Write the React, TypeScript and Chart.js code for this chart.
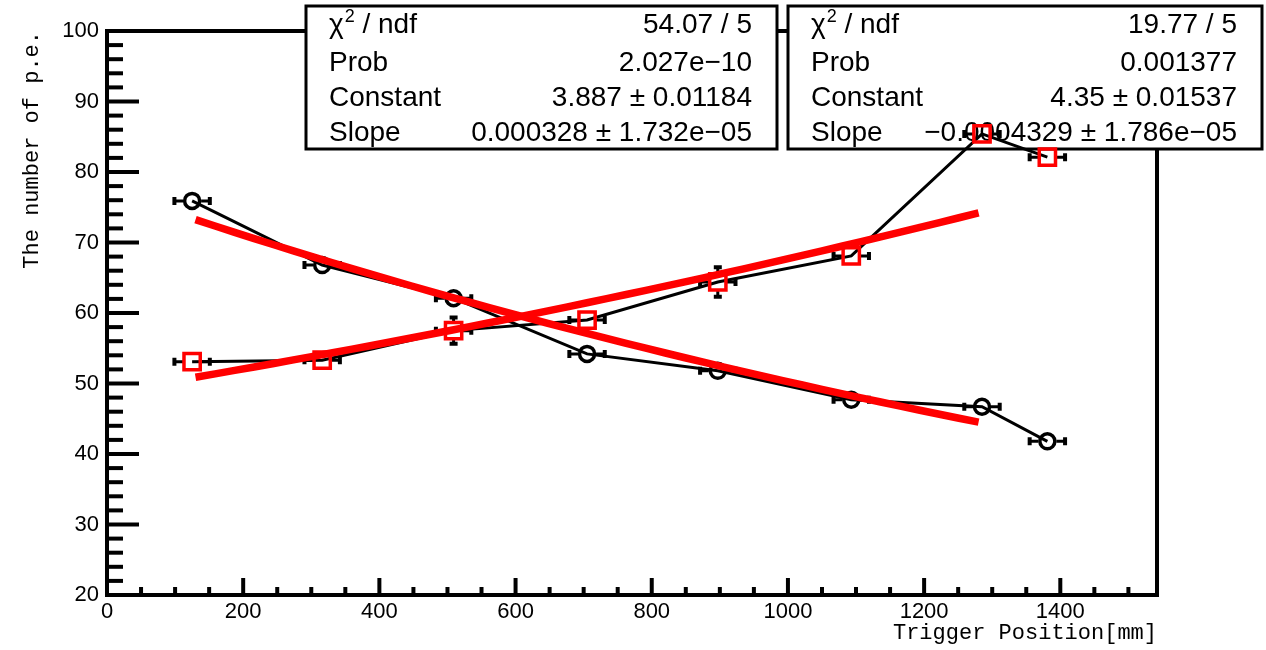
import React, { useEffect, useRef } from "react";
import { Chart, registerables } from "chart.js";

Chart.register(...registerables);

// ---------- data ----------
const positions = [125, 316, 509, 705, 897, 1093, 1285, 1381];
const positionErrors = [26, 26, 26, 26, 26, 26, 26, 26];
const circleValues = [75.9, 66.8, 62.1, 54.2, 51.8, 47.7, 46.7, 41.8];
const circleErrors = [0.8, 1.2, 0.8, 0.8, 0.8, 0.8, 0.8, 0.8];
const squareValues = [53.1, 53.3, 57.5, 59.0, 64.4, 68.1, 85.4, 82.1];
const squareErrors = [0.8, 0.8, 1.85, 0.8, 2.1, 0.8, 0.8, 0.8];

// exponential fits exp(constant + slope * x) over the fit range
const fitRange = [130, 1280];
const fitRising = { constant: 3.887, slope: 0.000328 };
const fitFalling = { constant: 4.35, slope: -0.0004329 };

const xTicks = [0, 200, 400, 600, 800, 1000, 1200, 1400];
const yTicks = [20, 30, 40, 50, 60, 70, 80, 90, 100];
const xMax = 1542;

const statsRisingLabels = ["χ2 / ndf", "Prob", "Constant", "Slope"];
const statsRisingValues = ["54.07 / 5", "2.027e\u221210", "3.887 ± 0.01184", "0.000328 ± 1.732e\u221205"];
const statsFallingLabels = ["χ2 / ndf", "Prob", "Constant", "Slope"];
const statsFallingValues = ["19.77 / 5", "0.001377", "4.35 ± 0.01537", "\u22120.0004329 ± 1.786e\u221205"];

const xTitle = "Trigger Position[mm]";
const yTitle = "The number of p.e.";

// ---------- helpers ----------
function fitSamples(fit: { constant: number; slope: number }) {
  const pts: { x: number; y: number }[] = [];
  const n = 40;
  for (let i = 0; i <= n; i++) {
    const x = fitRange[0] + ((fitRange[1] - fitRange[0]) * i) / n;
    pts.push({ x, y: Math.exp(fit.constant + fit.slope * x) });
  }
  return pts;
}

const SANS = "'Liberation Sans', Arial, Helvetica, sans-serif";
const MONO = "'Liberation Mono', 'Courier New', monospace";

function drawStatBox(
  ctx: CanvasRenderingContext2D,
  box: { x: number; y: number; w: number; h: number },
  labels: string[],
  values: string[]
) {
  ctx.save();
  ctx.fillStyle = "#ffffff";
  ctx.fillRect(box.x, box.y, box.w, box.h);
  ctx.strokeStyle = "#000000";
  ctx.lineWidth = 3;
  ctx.strokeRect(box.x, box.y, box.w, box.h);
  ctx.fillStyle = "#000000";
  ctx.textBaseline = "alphabetic";
  const baselines = [33, 70.5, 105.5, 140.5];
  const padL = 23;
  const padR = 25;
  const F = 28;
  labels.forEach((lab, i) => {
    const yb = box.y - 6 + baselines[i];
    ctx.textAlign = "left";
    if (lab.startsWith("χ2")) {
      ctx.font = `${F}px ${SANS}`;
      ctx.fillText("χ", box.x + padL, yb);
      const wChi = ctx.measureText("χ").width;
      ctx.font = `18px ${SANS}`;
      ctx.fillText("2", box.x + padL + wChi + 1, yb - 11);
      const w2 = ctx.measureText("2").width;
      ctx.font = `${F}px ${SANS}`;
      ctx.fillText(lab.slice(2), box.x + padL + wChi + 1 + w2, yb);
    } else {
      ctx.font = `${F}px ${SANS}`;
      ctx.fillText(lab, box.x + padL, yb);
    }
    ctx.font = `${F}px ${SANS}`;
    ctx.textAlign = "right";
    ctx.fillText(values[i], box.x + box.w - padR, yb);
  });
  ctx.restore();
}

const framePlugin = {
  id: "rootFrame",
  beforeDatasetsDraw(chart: any) {
    const { ctx, chartArea, scales } = chart;
    const xs = scales.x;
    const ys = scales.y;
    const { left, right, top, bottom } = chartArea;
    ctx.save();
    ctx.strokeStyle = "#000";
    ctx.lineWidth = 4;
    ctx.lineCap = "butt";
    // frame
    ctx.strokeRect(left, top, right - left, bottom - top);
    // y ticks (inward)
    for (let v = ys.min; v <= ys.max + 1e-9; v += 2) {
      const y = ys.getPixelForValue(v);
      const major = Math.abs(v % 10) < 1e-6;
      const len = major ? 32 : 16;
      ctx.beginPath();
      ctx.moveTo(left, y);
      ctx.lineTo(left + len, y);
      ctx.stroke();
    }
    // x ticks (inward)
    for (let v = 0; v <= xs.max + 1e-9; v += 50) {
      const x = xs.getPixelForValue(v);
      const major = Math.abs(v % 200) < 1e-6;
      const len = major ? 17 : 8;
      ctx.beginPath();
      ctx.moveTo(x, bottom);
      ctx.lineTo(x, bottom - len);
      ctx.stroke();
    }
    ctx.restore();

    // stat boxes
    drawStatBox(ctx, { x: 306, y: 6, w: 471, h: 143 }, statsRisingLabels, statsRisingValues);
    drawStatBox(ctx, { x: 788, y: 6, w: 474, h: 143 }, statsFallingLabels, statsFallingValues);

    // error bars
    const drawErrors = (vals: number[], errs: number[], markerHalf: number) => {
      ctx.save();
      ctx.strokeStyle = "#000";
      ctx.lineWidth = 3;
      vals.forEach((val, i) => {
        const px = xs.getPixelForValue(positions[i]);
        const py = ys.getPixelForValue(val);
        const exPx = xs.getPixelForValue(positions[i] + positionErrors[i]) - px;
        const eyPx = py - ys.getPixelForValue(val + errs[i]);
        const cap = 4;
        if (exPx > markerHalf) {
          ctx.beginPath();
          ctx.moveTo(px - exPx, py);
          ctx.lineTo(px - markerHalf, py);
          ctx.moveTo(px + markerHalf, py);
          ctx.lineTo(px + exPx, py);
          ctx.stroke();
          ctx.lineWidth = 4;
          ctx.beginPath();
          ctx.moveTo(px - exPx, py - cap);
          ctx.lineTo(px - exPx, py + cap);
          ctx.moveTo(px + exPx, py - cap);
          ctx.lineTo(px + exPx, py + cap);
          ctx.stroke();
          ctx.lineWidth = 3;
        }
        if (eyPx > markerHalf) {
          ctx.beginPath();
          ctx.moveTo(px, py - eyPx);
          ctx.lineTo(px, py - markerHalf);
          ctx.moveTo(px, py + markerHalf);
          ctx.lineTo(px, py + eyPx);
          ctx.stroke();
          ctx.lineWidth = 4;
          ctx.beginPath();
          ctx.moveTo(px - cap, py - eyPx);
          ctx.lineTo(px + cap, py - eyPx);
          ctx.moveTo(px - cap, py + eyPx);
          ctx.lineTo(px + cap, py + eyPx);
          ctx.stroke();
          ctx.lineWidth = 3;
        }
      });
      ctx.restore();
    };
    drawErrors(circleValues, circleErrors, 9);
    drawErrors(squareValues, squareErrors, 9);
  },
};

export default function App() {
  const canvasRef = useRef<HTMLCanvasElement | null>(null);

  useEffect(() => {
    document.body.style.margin = "0";
    const canvas = canvasRef.current;
    if (!canvas) return;

    const chart = new Chart(canvas, {
      type: "scatter",
      data: {
        datasets: [
          {
            label: "fit rising",
            data: fitSamples(fitRising),
            showLine: true,
            borderColor: "#ff0000",
            borderWidth: 7.5,
            pointRadius: 0,
            tension: 0,
            order: 0,
          },
          {
            label: "fit falling",
            data: fitSamples(fitFalling),
            showLine: true,
            borderColor: "#ff0000",
            borderWidth: 7.5,
            pointRadius: 0,
            tension: 0,
            order: 0,
          },
          {
            label: "circles",
            data: positions.map((x, i) => ({ x, y: circleValues[i] })),
            showLine: true,
            borderColor: "#000000",
            borderWidth: 3,
            pointStyle: "circle",
            pointRadius: 7.5,
            pointBorderWidth: 3.5,
            pointBorderColor: "#000000",
            pointBackgroundColor: "rgba(0,0,0,0)",
            tension: 0,
            order: 1,
          },
          {
            label: "squares",
            data: positions.map((x, i) => ({ x, y: squareValues[i] })),
            showLine: true,
            borderColor: "#000000",
            borderWidth: 3,
            pointStyle: "rect",
            pointRadius: 11.5,
            pointBorderWidth: 3.5,
            pointBorderColor: "#ff0000",
            pointBackgroundColor: "rgba(0,0,0,0)",
            tension: 0,
            order: 2,
          },
        ],
      },
      options: {
        animation: false,
        responsive: false,
        devicePixelRatio: 1,
        events: [],
        layout: { padding: { top: 31, right: 109, left: 0, bottom: 0 } },
        plugins: {
          legend: { display: false },
          tooltip: { enabled: false },
        },
        scales: {
          x: {
            type: "linear",
            min: 0,
            max: xMax,
            afterBuildTicks: (s: any) => {
              s.ticks = xTicks.map((v) => ({ value: v }));
            },
            afterFit: (s: any) => {
              s.height = 55;
            },
            grid: { display: false, drawTicks: false },
            border: { display: false },
            ticks: {
              color: "#000",
              font: { family: SANS, size: 22 },
              padding: 4,
              maxRotation: 0,
              autoSkip: false,
              includeBounds: false,
              callback: (v: any) => String(v),
            },
            title: {
              display: true,
              text: xTitle,
              align: "end",
              color: "#000",
              font: { family: MONO, size: 22 },
              padding: { top: 0, bottom: 4 },
            },
          },
          y: {
            type: "linear",
            min: 20,
            max: 100,
            afterBuildTicks: (s: any) => {
              s.ticks = yTicks.map((v) => ({ value: v }));
            },
            afterFit: (s: any) => {
              s.width = 107;
            },
            grid: { display: false, drawTicks: false },
            border: { display: false },
            ticks: {
              color: "#000",
              font: { family: SANS, size: 22 },
              padding: 8,
              autoSkip: false,
              includeBounds: false,
              callback: (v: any) => String(v),
            },
            title: {
              display: true,
              text: yTitle,
              align: "end",
              color: "#000",
              font: { family: MONO, size: 22 },
              padding: { top: 19, bottom: 0 },
            },
          },
        },
      },
      plugins: [framePlugin],
    } as any);

    return () => {
      chart.destroy();
    };
  }, []);

  return (
    <div style={{ position: "absolute", left: 0, top: 0, width: 1266, height: 650, background: "#fff" }}>
      <canvas ref={canvasRef} width={1266} height={650} style={{ width: 1266, height: 650, display: "block" }} />
    </div>
  );
}
